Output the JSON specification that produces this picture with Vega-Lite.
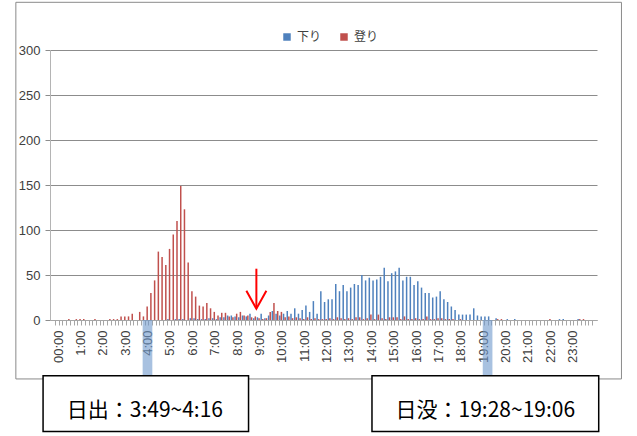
{
  "$schema": "https://vega.github.io/schema/vega-lite/v6.json",
  "width": 547,
  "height": 270,
  "autosize": "none",
  "padding": {"left": 50, "top": 50, "right": 40, "bottom": 116},
  "background": "white",
  "config": {
    "view": {"stroke": null},
    "font": "Liberation Sans",
    "axisX": {
      "grid": false, "title": null,
      "labelAngle": -90, "labelOffset": 3, "labelPadding": 5,
      "labelOverlap": false, "labelFlush": false, "labelBound": false,
      "labelFontSize": 13, "labelColor": "#404040",
      "tickSize": 5, "tickColor": "#a6a6a6", "domainColor": "#a6a6a6"
    },
    "axisY": {
      "title": null, "grid": true, "gridColor": "#8c8c8c",
      "tickSize": 5, "tickColor": "#8c8c8c", "domainColor": "#b4b4b4",
      "labelFontSize": 13, "labelColor": "#404040", "labelPadding": 5
    }
  },
  "datasets": {
    "counts": [
      {"m":0,"down":0,"up":0},{"m":10,"down":0,"up":0},{"m":20,"down":0,"up":0},{"m":30,"down":0,"up":1},{"m":40,"down":0,"up":0},{"m":50,"down":0,"up":1},
      {"m":60,"down":0,"up":1},{"m":70,"down":0,"up":1},{"m":80,"down":0,"up":0},{"m":90,"down":0,"up":0},{"m":100,"down":0,"up":1},{"m":110,"down":0,"up":0},
      {"m":120,"down":0,"up":0},{"m":130,"down":0,"up":0},{"m":140,"down":0,"up":1},{"m":150,"down":0,"up":1},{"m":160,"down":0,"up":1},{"m":170,"down":0,"up":4},
      {"m":180,"down":0,"up":4},{"m":190,"down":0,"up":4},{"m":200,"down":0,"up":7},{"m":210,"down":0,"up":0},{"m":220,"down":0,"up":9},{"m":230,"down":0,"up":4},
      {"m":240,"down":0,"up":15},{"m":250,"down":0,"up":30},{"m":260,"down":0,"up":44},{"m":270,"down":0,"up":76},{"m":280,"down":0,"up":70},{"m":290,"down":0,"up":61},
      {"m":300,"down":1,"up":79},{"m":310,"down":0,"up":95},{"m":320,"down":1,"up":110},{"m":330,"down":1,"up":149},{"m":340,"down":1,"up":123},{"m":350,"down":0,"up":64},
      {"m":360,"down":2,"up":32},{"m":370,"down":2,"up":26},{"m":380,"down":1,"up":16},{"m":390,"down":1,"up":15},{"m":400,"down":1,"up":19},{"m":410,"down":2,"up":13},
      {"m":420,"down":2,"up":9},{"m":430,"down":1,"up":5},{"m":440,"down":3,"up":8},{"m":450,"down":3,"up":8},{"m":460,"down":5,"up":4},{"m":470,"down":5,"up":3},
      {"m":480,"down":4,"up":7},{"m":490,"down":3,"up":9},{"m":500,"down":5,"up":5},{"m":510,"down":4,"up":5},{"m":520,"down":7,"up":3},{"m":530,"down":2,"up":4},
      {"m":540,"down":3,"up":2},{"m":550,"down":7,"up":1},{"m":560,"down":2,"up":2},{"m":570,"down":5,"up":9},{"m":580,"down":10,"up":19},{"m":590,"down":7,"up":10},
      {"m":600,"down":5,"up":9},{"m":610,"down":7,"up":3},{"m":620,"down":10,"up":4},{"m":630,"down":7,"up":2},{"m":640,"down":13,"up":3},{"m":650,"down":7,"up":2},
      {"m":660,"down":11,"up":1},{"m":670,"down":16,"up":3},{"m":680,"down":9,"up":1},{"m":690,"down":21,"up":2},{"m":700,"down":7,"up":1},{"m":710,"down":32,"up":1},
      {"m":720,"down":20,"up":1},{"m":730,"down":23,"up":2},{"m":740,"down":23,"up":1},{"m":750,"down":40,"up":3},{"m":760,"down":32,"up":2},{"m":770,"down":39,"up":1},
      {"m":780,"down":32,"up":2},{"m":790,"down":36,"up":1},{"m":800,"down":40,"up":3},{"m":810,"down":39,"up":3},{"m":820,"down":50,"up":1},{"m":830,"down":44,"up":2},
      {"m":840,"down":47,"up":6},{"m":850,"down":44,"up":1},{"m":860,"down":45,"up":6},{"m":870,"down":48,"up":2},{"m":880,"down":58,"up":1},{"m":890,"down":43,"up":3},
      {"m":900,"down":52,"up":3},{"m":910,"down":54,"up":3},{"m":920,"down":58,"up":1},{"m":930,"down":44,"up":4},{"m":940,"down":48,"up":1},{"m":950,"down":48,"up":1},
      {"m":960,"down":39,"up":2},{"m":970,"down":43,"up":1},{"m":980,"down":36,"up":1},{"m":990,"down":30,"up":4},{"m":1000,"down":30,"up":1},{"m":1010,"down":25,"up":1},
      {"m":1020,"down":26,"up":2},{"m":1030,"down":32,"up":2},{"m":1040,"down":23,"up":1},{"m":1050,"down":20,"up":1},{"m":1060,"down":15,"up":1},{"m":1070,"down":11,"up":0},
      {"m":1080,"down":6,"up":1},{"m":1090,"down":6,"up":0},{"m":1100,"down":6,"up":0},{"m":1110,"down":6,"up":0},{"m":1120,"down":13,"up":0},{"m":1130,"down":5,"up":0},
      {"m":1140,"down":4,"up":0},{"m":1150,"down":4,"up":0},{"m":1160,"down":4,"up":0},{"m":1170,"down":0,"up":0},{"m":1180,"down":2,"up":1},{"m":1190,"down":0,"up":1},
      {"m":1200,"down":0,"up":0},{"m":1210,"down":1,"up":0},{"m":1220,"down":0,"up":0},{"m":1230,"down":1,"up":0},{"m":1240,"down":0,"up":0},{"m":1250,"down":0,"up":0},
      {"m":1260,"down":0,"up":0},{"m":1270,"down":0,"up":0},{"m":1280,"down":0,"up":0},{"m":1290,"down":0,"up":0},{"m":1300,"down":0,"up":0},{"m":1310,"down":0,"up":0},
      {"m":1320,"down":0,"up":1},{"m":1330,"down":0,"up":0},{"m":1340,"down":0,"up":0},{"m":1350,"down":1,"up":0},{"m":1360,"down":1,"up":0},{"m":1370,"down":0,"up":0},
      {"m":1380,"down":0,"up":0},{"m":1390,"down":0,"up":0},{"m":1400,"down":1,"up":1},{"m":1410,"down":0,"up":1},{"m":1420,"down":0,"up":0},{"m":1430,"down":0,"up":0}
    ]
  },
  "data": {"name": "counts"},
  "layer": [
    {
      "mark": {"type": "bar", "width": 1.5, "xOffset": -0.8},
      "encoding": {
        "x": {
          "field": "m", "type": "quantitative",
          "scale": {"domain": [-5, 1435], "nice": false, "zero": false},
          "axis": {
            "title": null, "labelOverlap": false, "tickCount": 500,
            "values": [-5,5,15,25,35,45,55,65,75,85,95,105,115,125,135,145,155,165,175,185,195,205,215,225,235,245,255,265,275,285,295,305,315,325,335,345,355,365,375,385,395,405,415,425,435,445,455,465,475,485,495,505,515,525,535,545,555,565,575,585,595,605,615,625,635,645,655,665,675,685,695,705,715,725,735,745,755,765,775,785,795,805,815,825,835,845,855,865,875,885,895,905,915,925,935,945,955,965,975,985,995,1005,1015,1025,1035,1045,1055,1065,1075,1085,1095,1105,1115,1125,1135,1145,1155,1165,1175,1185,1195,1205,1215,1225,1235,1245,1255,1265,1275,1285,1295,1305,1315,1325,1335,1345,1355,1365,1375,1385,1395,1405,1415,1425,1435],
            "labelExpr": "(datum.value + 5) % 60 == 0 && datum.value < 1400 ? (datum.value == -5 ? '00:00' : ((datum.value + 5) / 60) + ':00') : ''"
          }
        },
        "y": {
          "field": "down", "type": "quantitative",
          "scale": {"domain": [0, 300], "nice": false},
          "axis": {"title": null, "values": [0, 50, 100, 150, 200, 250, 300]}
        },
        "color": {
          "datum": "下り",
          "scale": {"domain": ["下り", "登り"], "range": ["#4f81bd", "#c0504d"]},
          "legend": {
            "orient": "none", "legendX": 231, "legendY": -19, "direction": "horizontal",
            "title": null, "symbolType": "square", "symbolSize": 56, "symbolStrokeWidth": 0,
            "labelFont": "Noto Sans CJK JP", "labelFontSize": 12, "labelColor": "#404040",
            "columnPadding": 16, "padding": 0
          }
        }
      }
    },
    {
      "mark": {"type": "bar", "width": 1.5, "xOffset": 0.8},
      "encoding": {
        "x": {"field": "m", "type": "quantitative"},
        "y": {"field": "up", "type": "quantitative"},
        "color": {"datum": "登り"}
      }
    },
    {
      "data": {"values": [{}]},
      "mark": {"type": "rect", "fillOpacity": 0, "stroke": "#8a8a8a", "strokeWidth": 1},
      "encoding": {
        "x": {"datum": -110, "type": "quantitative"},
        "x2": {"datum": 1514},
        "y": {"datum": 353, "type": "quantitative"},
        "y2": {"datum": -65.5}
      }
    },
    {
      "data": {"values": [{}]},
      "mark": {"type": "rect", "color": "#6e98cc", "opacity": 0.6},
      "encoding": {
        "x": {"datum": 230, "type": "quantitative"},
        "x2": {"datum": 256},
        "y": {"datum": 0, "type": "quantitative"},
        "y2": {"datum": -62}
      }
    },
    {
      "data": {"values": [{}]},
      "mark": {"type": "rect", "color": "#6e98cc", "opacity": 0.6},
      "encoding": {
        "x": {"datum": 1142, "type": "quantitative"},
        "x2": {"datum": 1168},
        "y": {"datum": 0, "type": "quantitative"},
        "y2": {"datum": -62}
      }
    },
    {
      "data": {"values": [{}]},
      "mark": {"type": "rect", "fill": "white", "stroke": "black", "strokeWidth": 1.5},
      "encoding": {
        "x": {"datum": -37, "type": "quantitative"},
        "x2": {"datum": 514},
        "y": {"datum": -62, "type": "quantitative"},
        "y2": {"datum": -124}
      }
    },
    {
      "data": {"values": [{}]},
      "mark": {"type": "rect", "fill": "white", "stroke": "black", "strokeWidth": 1.5},
      "encoding": {
        "x": {"datum": 845, "type": "quantitative"},
        "x2": {"datum": 1453},
        "y": {"datum": -62, "type": "quantitative"},
        "y2": {"datum": -124}
      }
    },
    {
      "data": {"values": [{}]},
      "mark": {"type": "text", "font": "Noto Sans CJK JP", "fontSize": 21, "color": "black", "align": "center", "baseline": "middle"},
      "encoding": {
        "x": {"datum": 236, "type": "quantitative"},
        "y": {"datum": -101, "type": "quantitative"},
        "text": {"value": "日出：3:49~4:16"}
      }
    },
    {
      "data": {"values": [{}]},
      "mark": {"type": "text", "font": "Noto Sans CJK JP", "fontSize": 21, "color": "black", "align": "center", "baseline": "middle"},
      "encoding": {
        "x": {"datum": 1149, "type": "quantitative"},
        "y": {"datum": -101, "type": "quantitative"},
        "text": {"value": "日没：19:28~19:06"}
      }
    },
    {
      "data": {"values": [{}]},
      "mark": {"type": "rule", "color": "#ff0000", "strokeWidth": 2},
      "encoding": {
        "x": {"datum": 535, "type": "quantitative"},
        "y": {"datum": 57, "type": "quantitative"},
        "y2": {"datum": 13}
      }
    },
    {
      "data": {"values": [{}]},
      "mark": {"type": "point", "shape": "M -1 -1.8 L 0 0 L 1 -1.8", "size": 400, "filled": false, "stroke": "#ff0000", "strokeWidth": 2, "opacity": 1},
      "encoding": {
        "x": {"datum": 535, "type": "quantitative"},
        "y": {"datum": 12.5, "type": "quantitative"}
      }
    }
  ]
}
